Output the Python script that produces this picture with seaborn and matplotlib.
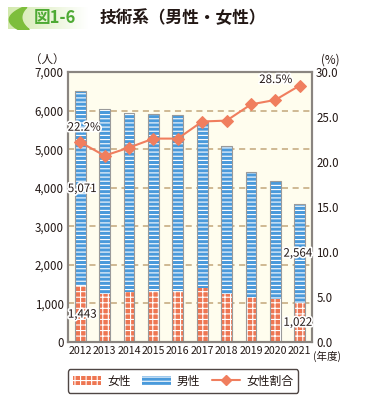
import numpy as np
import pandas as pd
import matplotlib
matplotlib.use("Agg")
import matplotlib.pyplot as plt
import matplotlib.patheffects as pe
from matplotlib.patches import Patch, Rectangle
from matplotlib.lines import Line2D
from matplotlib.ticker import FuncFormatter, FixedLocator
import seaborn as sns

years = ["2012", "2013", "2014", "2015", "2016", "2017", "2018", "2019", "2020", "2021"]
female = [1443, 1249, 1290, 1334, 1326, 1404, 1249, 1163, 1120, 1022]
male = [5071, 4800, 4648, 4568, 4550, 4316, 3824, 3254, 3046, 2564]
ratio = [22.2, 20.7, 21.6, 22.6, 22.6, 24.5, 24.6, 26.4, 26.9, 28.5]

sns.set_style("white")
plt.rcParams["font.family"] = ["Noto Sans CJK JP", "DejaVu Sans"]
plt.rcParams["hatch.linewidth"] = 0.8

df = pd.DataFrame({"year": years, "female": female, "male": male, "ratio": ratio})
df["total"] = df["female"] + df["male"]

c_f = "#EE7652"
c_m = "#4A9ADB"
c_line = "#F07E5E"
c_txt = "#231815"
h_f = "+++"
h_m = "----"

fig = plt.figure(figsize=(3.8, 4.05), dpi=100)
ax = fig.add_axes([68 / 380, 1 - 342 / 405, 244 / 380, 270 / 405])
ax.set_facecolor("#FFFDEE")

# total bars first (male style), female bars drawn over the bottom part
sns.barplot(data=df, x="year", y="total", ax=ax, color=c_m, width=0.44,
            saturation=1, edgecolor="white", linewidth=0)
sns.barplot(data=df, x="year", y="female", ax=ax, color=c_f, width=0.44,
            saturation=1, edgecolor="white", linewidth=0)
n = len(years)
for i, p in enumerate(list(ax.patches)):
    p.set_hatch(h_m if i < n else h_f)
    p.set_edgecolor("white")
    p.set_linewidth(0)
    if i < n:
        ax.add_patch(Rectangle(p.get_xy(), p.get_width(), p.get_height(), fill=False,
                               edgecolor="#9A9A9A", lw=0.8, zorder=p.get_zorder() + 0.5))

ax.set_ylim(0, 7000)
ax.set_xlim(-0.5, n - 0.5)
ax.set_axisbelow(True)
for v in range(1000, 7000, 1000):
    ax.axhline(v, color="#C2A67A", lw=1.1, ls=(0, (4, 3)), zorder=0.5)
ax.set_yticks(range(0, 7001, 1000))
ax.yaxis.set_major_formatter(FuncFormatter(lambda v, _: f"{int(v):,}"))
ax.set_xlabel("")
ax.set_ylabel("")
ax.tick_params(axis="y", length=0, labelsize=8.3, colors=c_txt, pad=3)
ax.tick_params(axis="x", which="major", length=0, labelsize=7.6, colors=c_txt, pad=3)
ax.xaxis.set_minor_locator(FixedLocator(np.arange(0.5, n - 1, 1)))
ax.tick_params(axis="x", which="minor", direction="in", length=4, width=1, color="#555555")
for s in ax.spines.values():
    s.set_color("#8A8580")
    s.set_linewidth(1.5)

ax2 = ax.twinx()
sns.lineplot(x=np.arange(n), y=ratio, ax=ax2, color=c_line, lw=1.5, marker="D",
             markersize=6, markeredgecolor=c_line)
ax2.set_ylim(0, 30)
ax2.set_yticks(np.arange(0, 30.1, 5))
ax2.yaxis.set_major_formatter(FuncFormatter(lambda v, _: f"{v:.1f}"))
ax2.tick_params(axis="y", length=0, labelsize=8.3, colors=c_txt, pad=3)
for s in ax2.spines.values():
    s.set_color("#8A8580")
    s.set_linewidth(1.5)

stroke = [pe.withStroke(linewidth=2.5, foreground="white")]
def label(a, x, y, s, dx=0, dy=0):
    a.annotate(s, (x, y), xytext=(dx, dy), textcoords="offset pixels", ha="center",
               va="center", fontsize=8.3, color=c_txt, path_effects=stroke, zorder=10)

label(ax2, 0, ratio[0], f"{ratio[0]}%", dx=4, dy=15)
label(ax2, n - 1, ratio[-1], f"{ratio[-1]}%", dx=-24, dy=6)
label(ax2, 0, (female[0] + df["total"][0]) / 2 * 30 / 7000, f"{male[0]:,}", dx=2)
label(ax2, 0, female[0] / 2 * 30 / 7000, f"{female[0]:,}", dx=2)
label(ax2, n - 1, (female[-1] + df["total"].iloc[-1]) / 2 * 30 / 7000, f"{male[-1]:,}", dx=-2)
label(ax2, n - 1, female[-1] / 2 * 30 / 7000, f"{female[-1]:,}", dx=-2)

fig.text(47 / 380, 1 - 60 / 405, "（人）", ha="center", va="center", fontsize=8.3, color=c_txt)
fig.text(330 / 380, 1 - 60 / 405, "(%)", ha="center", va="center", fontsize=8.3, color=c_txt)
fig.text(313 / 380, 1 - 356 / 405, "(年度)", ha="left", va="center", fontsize=7.6, color=c_txt)

# title badge
bax = fig.add_axes([8 / 380, 1 - 29 / 405, 80 / 380, 22 / 405])
grad = np.linspace(0, 1, 256)[None, :]
cmap = matplotlib.colors.LinearSegmentedColormap.from_list("g", ["#D3E9AE", "#E9F4D6", "#FFFFFF"])
bax.imshow(grad, aspect="auto", cmap=cmap, extent=[0, 1, 0, 1])
t = np.linspace(0, 1, 60)
x_left = 0.01 + 0.55 * (t - 0.45) ** 2
x_right = 0.10 + 0.30 * (t - 0.35) ** 2 + 0.12 * (1 - t)
bax.fill_betweenx(t, x_left, x_right, color="#7DBE3C")
bax.set_xlim(0, 1)
bax.set_ylim(0, 1)
bax.axis("off")
fig.text(55 / 380, 1 - 18 / 405, "図1-6", ha="center", va="center", fontsize=12,
         color="#4EAA34", fontweight="bold")
fig.text(100 / 380, 1 - 18 / 405, "技術系（男性・女性）", ha="left", va="center", fontsize=12,
         color="#231815", fontweight="bold")

# legend
handles = [Patch(facecolor=c_f, edgecolor="white", hatch=h_f, lw=0, label="女性"),
           Patch(facecolor=c_m, edgecolor="white", hatch=h_m, lw=0, label="男性"),
           Line2D([], [], color=c_line, marker="D", markersize=5, lw=1.5, label="女性割合")]
leg = fig.legend(handles=handles, loc="center", bbox_to_anchor=(183 / 380, 1 - 381 / 405),
                 ncol=3, frameon=True, fontsize=8.5, handlelength=2.4, handleheight=0.9,
                 columnspacing=1.0, handletextpad=0.5, borderpad=0.45, fancybox=True)
leg.get_frame().set_edgecolor("#231815")
leg.get_frame().set_linewidth(1.0)
for tx in leg.get_texts():
    tx.set_color(c_txt)

fig.savefig("out.png", dpi=100, facecolor="white")
